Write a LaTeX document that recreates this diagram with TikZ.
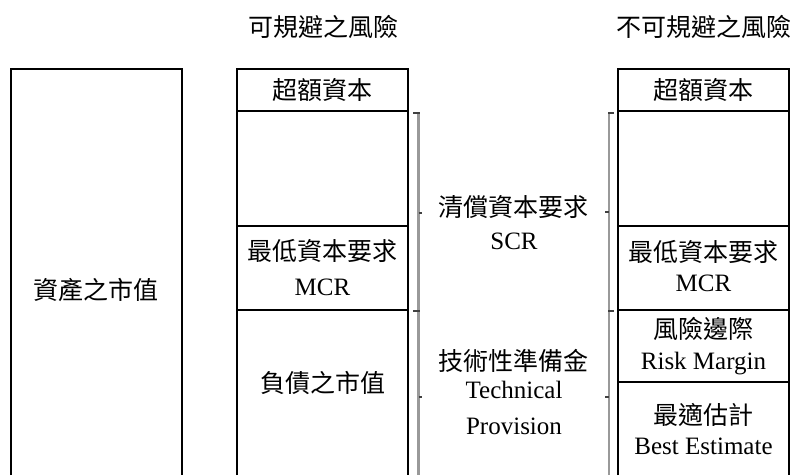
\documentclass[tikz,border=0pt]{standalone}
\usepackage{fontspec}
\setmainfont{Liberation Serif}
\newfontfamily\cjk{Noto Sans CJK TC}
\begin{document}
\begin{tikzpicture}[x=1pt,y=-1pt,
  box/.style={line width=1.5pt,draw=black},
  zh/.style={font=\cjk\fontsize{25}{28}\selectfont,inner sep=0pt,text height=0.88em,text depth=0.12em,yshift=-4pt},
  en/.style={font=\fontsize{25}{28}\selectfont,inner sep=0pt,text height=0.662em,text depth=0pt,yshift=-2pt},
  brk/.style={line width=2.2pt,draw=black!40},
  tick/.style={line width=2pt,draw=black!75}]
\useasboundingbox (0,0) rectangle (798,475);
% left box
\draw[box] (11,475) -- (11,69) -- (182,69) -- (182,475);
% middle column
\draw[box] (237,475) -- (237,69) -- (408,69) -- (408,475);
\draw[box] (237,111) -- (408,111);
\draw[box] (237,226) -- (408,226);
\draw[box] (237,310) -- (408,310);
% right column
\draw[box] (618,475) -- (618,69) -- (789,69) -- (789,475);
\draw[box] (618,111) -- (789,111);
\draw[box] (618,226) -- (789,226);
\draw[box] (618,310) -- (789,310);
\draw[box] (618,382) -- (789,382);
% brackets
\draw[brk] (418.5,112) -- (418.5,475);
\draw[tick] (413,113) -- (419.5,113);
\draw[tick] (418.5,213) -- (422,213);
\draw[tick] (413,311) -- (419.5,311);
\draw[tick] (418.5,397) -- (422,397);
\draw[brk] (609,112) -- (609,475);
\draw[tick] (608,113) -- (614,113);
\draw[tick] (605,212) -- (609,212);
\draw[tick] (608,311) -- (614,311);
\draw[tick] (605,397) -- (609,397);
% headers
\node[zh] (h1) at (323.5,29) {可規避之風險};
\node[zh] (h2) at (703.5,29) {不可規避之風險};
% left
\node[zh] (asset) at (96.5,292) {資產之市值};
% middle texts
\node[zh] (mex) at (322.5,91.5) {超額資本};
\node[zh] (mmcr) at (322.5,253) {最低資本要求};
\node[en] (mmcre) at (322.5,290) {MCR};
\node[zh] (mliab) at (322.5,385) {負債之市值};
% center labels
\node[zh] (scr) at (513,209) {清償資本要求};
\node[en] (scre) at (514,244) {SCR};
\node[zh] (tp) at (513,363) {技術性準備金};
\node[en] (tpe1) at (514,393) {Technical};
\node[en] (tpe2) at (514,429) {Provision};
% right texts
\node[zh] (rex) at (703.5,91.5) {超額資本};
\node[zh] (rmcr) at (703.5,254) {最低資本要求};
\node[en] (rmcre) at (703.5,286) {MCR};
\node[zh] (rm) at (703.5,331) {風險邊際};
\node[en] (rme) at (703.5,364) {Risk Margin};
\node[zh] (be) at (703.5,417) {最適估計};
\node[en] (bee) at (703.5,449) {Best Estimate};
\end{tikzpicture}
\end{document}
